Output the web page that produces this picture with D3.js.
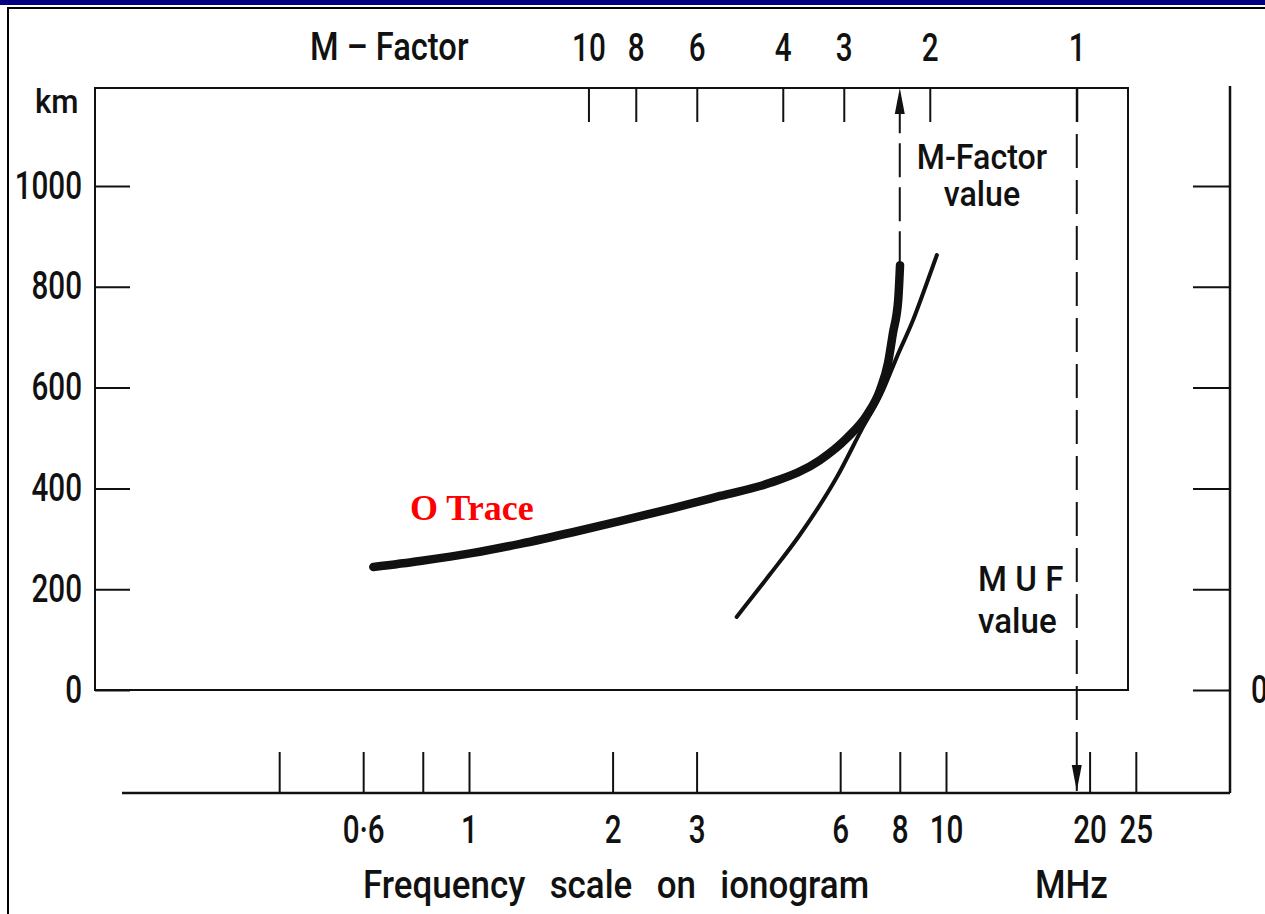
<!DOCTYPE html>
<html>
<head>
<meta charset="utf-8">
<script src="https://cdn.jsdelivr.net/npm/d3@7"></script>
<style>
  body { margin: 0; background: #fff; }
  #chart text { font-family: Roboto, "DejaVu Sans Condensed", sans-serif; font-weight: 500; fill: #111; }
</style>
</head>
<body>
<div id="chart"></div>
<script>
/* global d3 */

// height axis (km)
var heightTicks = [0, 200, 400, 600, 800, 1000];
// frequency scale on ionogram (MHz)
var freqTicks = [0.4, 0.6, 0.8, 1, 2, 3, 6, 8, 10, 20, 25];
var freqLabels = ['', '0·6', '', '1', '2', '3', '6', '8', '10', '20', '25'];
// M-factor overlay
var mTicks = [10, 8, 6, 4, 3, 2, 1];
var mTenFreq = 1.78;   // where M = 10 falls on the frequency scale
var mufFreq = 18.8;    // M = 1 sits on the MUF
var mFactorFreq = 8.0; // top of the O trace

// O trace (thick)
var oTraceFreq   = [0.63, 0.79, 1.02, 1.28, 1.65, 2.07, 2.68, 3.36, 4.28, 5.44, 6.20, 6.83, 7.27, 7.56, 7.74, 7.94, 8.01];
var oTraceHeight = [244,  256,  272,  290,  313,  335,  361,  385,  411,  456,  500,  546,  595,  649,  708,  774,  843];
// transmission curve (thin)
var curveFreq   = [3.64, 4.28, 4.94, 5.91, 6.70, 7.38, 7.89, 8.53, 9.12, 9.57];
var curveHeight = [145,  230,  308,  423,  522,  595,  661,  734,  808,  863];

var W = 1265, H = 914;
var BOX_LEFT = 95, BOX_RIGHT = 1128, BOX_TOP = 88;
var FREQ_AXIS_Y = 793, FREQ_AXIS_LEFT = 122, RIGHT_AXIS_X = 1230;
var FONT = 38;
var NUM_SX = 0.78, WORD_SX = 0.92;

// squeeze text sideways round its own x, the print face is a narrow one
function condense(sel, sx) {
  sel.attr('transform', function() {
    var x0 = +this.getAttribute('x') || 0;
    return 'translate(' + x0 + ',0) scale(' + sx + ',1) translate(' + (-x0) + ',0)';
  });
}

var svg = d3.select('#chart').append('svg')
  .attr('width', W)
  .attr('height', H);

// slide frame
svg.append('rect').attr('x', 0).attr('y', 0).attr('width', W).attr('height', 5).attr('fill', '#000080');
svg.append('path').attr('d', 'M8,' + H + 'V8H' + W).attr('fill', 'none').attr('stroke', '#000').attr('stroke-width', 2);

var x = d3.scaleLog().domain([1, 10]).range([469, 946]);
var y = d3.scaleLinear().domain([0, 1000]).range([690, 186]);
var m = d3.scaleLog().domain([1, 10]).range([x(mufFreq), x(mTenFreq)]);

function styleAxis(g) {
  g.select('.domain').remove();
  g.selectAll('.tick line').attr('stroke', '#111').attr('stroke-width', 2);
  g.selectAll('.tick text').attr('font-size', FONT).attr('fill', '#111').call(condense, NUM_SX);
}

// plot box
svg.append('rect')
  .attr('x', BOX_LEFT).attr('y', BOX_TOP)
  .attr('width', BOX_RIGHT - BOX_LEFT).attr('height', y(0) - BOX_TOP)
  .attr('fill', 'none').attr('stroke', '#111').attr('stroke-width', 2);

// left height axis
svg.append('g')
  .attr('transform', 'translate(' + BOX_LEFT + ',0)')
  .call(d3.axisLeft(y).tickValues(heightTicks).tickSize(-35).tickPadding(13).tickFormat(d3.format('d')))
  .call(styleAxis);

svg.append('text').attr('x', 35).attr('y', 113).attr('font-size', FONT - 4).text('km').call(condense, WORD_SX);

// right height axis
svg.append('line')
  .attr('x1', RIGHT_AXIS_X).attr('x2', RIGHT_AXIS_X)
  .attr('y1', BOX_TOP - 2).attr('y2', FREQ_AXIS_Y)
  .attr('stroke', '#111').attr('stroke-width', 2.5);
svg.append('g')
  .attr('transform', 'translate(' + RIGHT_AXIS_X + ',0)')
  .call(d3.axisRight(y).tickValues(heightTicks).tickSize(-37).tickPadding(21)
    .tickFormat(function(d) { return d === 0 ? '0' : ''; }))
  .call(styleAxis);

// frequency axis
svg.append('line')
  .attr('x1', FREQ_AXIS_LEFT).attr('x2', RIGHT_AXIS_X)
  .attr('y1', FREQ_AXIS_Y).attr('y2', FREQ_AXIS_Y)
  .attr('stroke', '#111').attr('stroke-width', 2.5);
svg.append('g')
  .attr('transform', 'translate(0,' + FREQ_AXIS_Y + ')')
  .call(d3.axisBottom(x).tickValues(freqTicks).tickSize(-41).tickPadding(23)
    .tickFormat(function(d, i) { return freqLabels[i]; }))
  .call(styleAxis);

svg.append('text').attr('x', 363).attr('y', 898).attr('font-size', FONT)
  .attr('word-spacing', 17).text('Frequency scale on ionogram').call(condense, WORD_SX);
svg.append('text').attr('x', 1035).attr('y', 898).attr('font-size', FONT).text('MHz').call(condense, WORD_SX);

// M-factor scale along the box top
svg.append('g')
  .attr('transform', 'translate(0,' + BOX_TOP + ')')
  .call(d3.axisTop(m).tickValues(mTicks).tickSize(-34).tickPadding(27).tickFormat(d3.format('d')))
  .call(styleAxis);

svg.append('text').attr('x', 310).attr('y', 60).attr('font-size', FONT)
  .text('M – Factor').call(condense, 0.86);

// MUF dashed line, down to the frequency scale
var fx = x(mufFreq);
svg.append('line')
  .attr('x1', fx).attr('x2', fx)
  .attr('y1', BOX_TOP).attr('y2', FREQ_AXIS_Y - 2)
  .attr('stroke', '#111').attr('stroke-width', 2)
  .attr('stroke-dasharray', '34,12');
svg.append('path')
  .attr('d', d3.line()([[fx - 5, FREQ_AXIS_Y - 28], [fx + 5, FREQ_AXIS_Y - 28], [fx, FREQ_AXIS_Y - 2]]))
  .attr('fill', '#111');

// M-factor dashed line, up from the top of the O trace
var mx = x(mFactorFreq);
svg.append('line')
  .attr('x1', mx).attr('x2', mx)
  .attr('y1', y(d3.max(oTraceHeight))).attr('y2', BOX_TOP + 20)
  .attr('stroke', '#111').attr('stroke-width', 2)
  .attr('stroke-dasharray', '34,10');
svg.append('path')
  .attr('d', d3.line()([[mx - 5, BOX_TOP + 26], [mx + 5, BOX_TOP + 26], [mx, BOX_TOP]]))
  .attr('fill', '#111');

// curves
var line = d3.line()
  .x(function(d) { return x(d[0]); })
  .y(function(d) { return y(d[1]); })
  .curve(d3.curveMonotoneX);

svg.append('path')
  .datum(d3.zip(curveFreq, curveHeight))
  .attr('d', line)
  .attr('fill', 'none').attr('stroke', '#111')
  .attr('stroke-width', 4).attr('stroke-linecap', 'round');

svg.append('path')
  .datum(d3.zip(oTraceFreq, oTraceHeight))
  .attr('d', line)
  .attr('fill', 'none').attr('stroke', '#111')
  .attr('stroke-width', 8.5).attr('stroke-linecap', 'round');

// annotations
svg.append('text').attr('x', 410).attr('y', 520)
  .style('font-family', '"Liberation Serif", "Times New Roman", serif')
  .style('font-weight', 'bold').style('fill', '#f00')
  .attr('font-size', 36).text('O Trace');

svg.append('text').attr('x', 982).attr('y', 169).attr('text-anchor', 'middle')
  .attr('font-size', FONT - 3).text('M-Factor').call(condense, WORD_SX);
svg.append('text').attr('x', 982).attr('y', 206).attr('text-anchor', 'middle')
  .attr('font-size', FONT - 3).text('value').call(condense, WORD_SX);

svg.append('text').attr('x', 978).attr('y', 591)
  .attr('font-size', FONT - 2).attr('letter-spacing', 9).text('MUF').call(condense, WORD_SX);
svg.append('text').attr('x', 978).attr('y', 633)
  .attr('font-size', FONT - 2).text('value').call(condense, WORD_SX);
</script>
</body>
</html>
